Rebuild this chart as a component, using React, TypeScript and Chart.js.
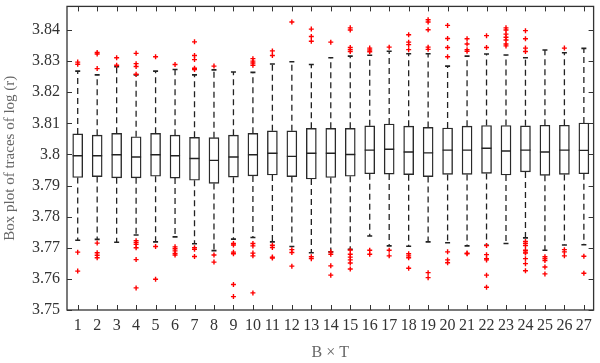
import React, { useEffect, useRef } from "react";
import { Chart, registerables } from "chart.js";

Chart.register(...registerables);

const categories = [1, 2, 3, 4, 5, 6, 7, 8, 9, 10, 11, 12, 13, 14, 15, 16, 17, 18, 19, 20, 21, 22, 23, 24, 25, 26, 27];

const q3 = [3.8066, 3.8062, 3.8068, 3.8057, 3.8068, 3.8062, 3.8055, 3.8054, 3.8062, 3.8068, 3.8076, 3.8076, 3.8084, 3.8084, 3.8084, 3.8092, 3.8098, 3.8091, 3.8087, 3.8085, 3.8091, 3.8093, 3.8093, 3.8092, 3.8094, 3.8094, 3.8101];
const medians = [3.7996, 3.7996, 3.7999, 3.7992, 3.7999, 3.7996, 3.7987, 3.7981, 3.7992, 3.7999, 3.8004, 3.7994, 3.8004, 3.8004, 3.8, 3.8014, 3.8017, 3.8008, 3.8005, 3.8014, 3.8014, 3.802, 3.8011, 3.8014, 3.8008, 3.8014, 3.8013];
const q1 = [3.7926, 3.7929, 3.7925, 3.7925, 3.793, 3.7924, 3.7917, 3.7907, 3.7927, 3.7931, 3.7934, 3.7929, 3.7921, 3.7926, 3.793, 3.7938, 3.7937, 3.7935, 3.7929, 3.7936, 3.7936, 3.7939, 3.7934, 3.7944, 3.7933, 3.7936, 3.7938];
const upperWhisker = [3.8268, 3.8256, 3.8282, 3.8256, 3.8268, 3.8273, 3.8256, 3.8272, 3.8265, 3.8264, 3.8291, 3.8298, 3.8289, 3.8311, 3.8316, 3.8319, 3.8332, 3.8324, 3.8324, 3.8284, 3.8316, 3.8323, 3.832, 3.8311, 3.8336, 3.8327, 3.8341];
const lowerWhisker = [3.7724, 3.7727, 3.7718, 3.7741, 3.7719, 3.7735, 3.7713, 3.7691, 3.7728, 3.7733, 3.7719, 3.7704, 3.7684, 3.7687, 3.7695, 3.7738, 3.7706, 3.7705, 3.7719, 3.7716, 3.7706, 3.7708, 3.7714, 3.7732, 3.7692, 3.7709, 3.771];

const outliers = [
  [3.8297, 3.829, 3.7686, 3.7625],
  [3.8328, 3.8323, 3.8276, 3.7715, 3.7684, 3.7676, 3.7668],
  [3.8311, 3.8287],
  [3.8325, 3.8292, 3.8283, 3.8258, 3.7723, 3.7717, 3.7711, 3.77, 3.7662, 3.7571],
  [3.8314, 3.7704, 3.7599],
  [3.8289, 3.7703, 3.7697, 3.769, 3.7682, 3.7677],
  [3.8362, 3.8318, 3.8305, 3.8277, 3.8273, 3.77, 3.7695, 3.7672],
  [3.8284, 3.7677, 3.7654],
  [3.7714, 3.7709, 3.7686, 3.7681, 3.7582, 3.7543],
  [3.8308, 3.83, 3.8294, 3.8287, 3.7714, 3.7706, 3.7683, 3.7674, 3.7555],
  [3.8333, 3.8318, 3.7708, 3.7701, 3.767, 3.7667],
  [3.8426, 3.7694, 3.7685, 3.7641],
  [3.8403, 3.8379, 3.8364, 3.7671, 3.7665],
  [3.8361, 3.7687, 3.7679, 3.7642, 3.7612],
  [3.8407, 3.84, 3.8344, 3.8337, 3.8331, 3.7693, 3.7679, 3.767, 3.7661, 3.7651, 3.7632],
  [3.8342, 3.8336, 3.833, 3.7692, 3.7679],
  [3.8345, 3.7692, 3.7674],
  [3.8385, 3.8361, 3.8353, 3.8337, 3.7681, 3.7674, 3.7668, 3.7634],
  [3.8433, 3.8426, 3.8401, 3.8345, 3.8338, 3.762, 3.7604],
  [3.8415, 3.8373, 3.8344, 3.8314, 3.7687, 3.7661, 3.7652],
  [3.8372, 3.8355, 3.8337, 3.8332, 3.7683, 3.7681],
  [3.8382, 3.8344, 3.7707, 3.7678, 3.7665, 3.7661, 3.7612, 3.7573],
  [3.8407, 3.84, 3.8387, 3.8377, 3.8368, 3.8355, 3.8349],
  [3.8398, 3.8372, 3.8342, 3.8331, 3.772, 3.7714, 3.7707, 3.7692, 3.7686, 3.7683, 3.7665, 3.7649, 3.7626],
  [3.7671, 3.7665, 3.7659, 3.7638, 3.7616],
  [3.8342, 3.7694, 3.7687, 3.7674],
  [3.7673, 3.7618],
];

const yTickValues = [3.75, 3.76, 3.77, 3.78, 3.79, 3.8, 3.81, 3.82, 3.83, 3.84];
const yTickLabels = ["3.75", "3.76", "3.77", "3.78", "3.79", "3.8", "3.81", "3.82", "3.83", "3.84"];
const xTitle = "B × T";
const yTitle = "Box plot of traces of log (r)";

const FONT = "'Liberation Serif', 'DejaVu Serif', serif";
const AXIS_COLOR = "#333333";

const framePlugin = {
  id: "frameTicks",
  afterDraw(chart: any) {
    const { ctx, chartArea: a, scales } = chart;
    const xs = scales.x;
    const ys = scales.y;
    const len = 5;
    ctx.save();
    ctx.strokeStyle = AXIS_COLOR;
    ctx.lineWidth = 1;
    ctx.beginPath();
    for (const c of categories) {
      const px = Math.round(xs.getPixelForValue(c)) + 0.5;
      ctx.moveTo(px, a.bottom);
      ctx.lineTo(px, a.bottom - len);
      ctx.moveTo(px, a.top);
      ctx.lineTo(px, a.top + len);
    }
    for (const v of yTickValues) {
      const py = Math.round(ys.getPixelForValue(v)) + 0.5;
      ctx.moveTo(a.left, py);
      ctx.lineTo(a.left + len, py);
      ctx.moveTo(a.right, py);
      ctx.lineTo(a.right - len, py);
    }
    ctx.stroke();
    ctx.lineWidth = 1.3;
    ctx.strokeRect(a.left, a.top, a.right - a.left, a.bottom - a.top);
    ctx.restore();
  },
};

export default function App() {
  const ref = useRef<HTMLCanvasElement | null>(null);

  useEffect(() => {
    if (!ref.current) return;

    const boxData = categories.map((c, i) => ({ x: c, y: [q1[i], q3[i]] }));
    const whiskerData: any[] = [];
    categories.forEach((c, i) => {
      whiskerData.push({ x: c, y: q3[i] }, { x: c, y: upperWhisker[i] }, { x: c, y: null });
      whiskerData.push({ x: c, y: q1[i] }, { x: c, y: lowerWhisker[i] }, { x: c, y: null });
    });
    const capData: any[] = [];
    categories.forEach((c, i) => {
      capData.push({ x: c, y: upperWhisker[i] }, { x: c, y: lowerWhisker[i] });
    });
    const medianData = categories.map((c, i) => ({ x: c, y: medians[i] }));
    const outlierData: any[] = [];
    categories.forEach((c, i) => {
      outliers[i].forEach((v) => outlierData.push({ x: c, y: v }));
    });

    const chart = new Chart(ref.current, {
      type: "bar",
      data: {
        datasets: [
          {
            type: "scatter",
            label: "outliers",
            data: outlierData,
            pointStyle: "cross",
            pointRadius: 2.5,
            pointBorderWidth: 1.4,
            borderColor: "#ff0000",
            backgroundColor: "#ff0000",
            order: 0,
          } as any,
          {
            type: "scatter",
            label: "medians",
            data: medianData,
            pointStyle: "line",
            pointRadius: 5,
            pointBorderWidth: 1.4,
            borderColor: "#222222",
            order: 1,
          } as any,
          {
            type: "scatter",
            label: "caps",
            data: capData,
            pointStyle: "line",
            pointRadius: 2.5,
            pointBorderWidth: 1.6,
            borderColor: "#222222",
            order: 2,
          } as any,
          {
            type: "line",
            label: "whiskers",
            data: whiskerData,
            borderColor: "#222222",
            borderWidth: 1.3,
            borderDash: [6, 4],
            pointRadius: 0,
            spanGaps: false,
            tension: 0,
            fill: false,
            order: 3,
          } as any,
          {
            type: "bar",
            label: "boxes",
            data: boxData,
            backgroundColor: "#ffffff",
            borderColor: "#2a2a2a",
            borderWidth: 1.4,
            borderSkipped: false,
            barThickness: 10,
            grouped: false,
            order: 4,
          } as any,
        ],
      },
      options: {
        animation: false,
        responsive: false,
        maintainAspectRatio: false,
        layout: { padding: { top: 1, right: 1, left: 0, bottom: 0 } },
        plugins: {
          legend: { display: false },
          tooltip: { enabled: false },
        },
        scales: {
          x: {
            type: "linear",
            min: 0.45,
            max: 27.5,
            offset: false,
            grid: { display: false, drawTicks: false },
            border: { display: false },
            afterBuildTicks: (s: any) => {
              s.ticks = categories.map((v) => ({ value: v }));
            },
            afterFit: (s: any) => {
              s.height = 53;
              s.paddingLeft = 0;
              s.paddingRight = 0;
            },
            ticks: {
              autoSkip: false,
              maxRotation: 0,
              minRotation: 0,
              padding: 6,
              color: "#333333",
              font: { family: FONT, size: 16 },
              callback: (v: any) => String(v),
            },
            title: {
              display: true,
              text: xTitle,
              color: "#666666",
              font: { family: FONT, size: 16 },
              padding: { top: 0, bottom: 1 },
            },
          },
          y: {
            type: "linear",
            min: 3.75,
            max: 3.8476,
            grid: { display: false, drawTicks: false },
            border: { display: false },
            afterBuildTicks: (s: any) => {
              s.ticks = yTickValues.map((v) => ({ value: v }));
            },
            afterFit: (s: any) => {
              s.width = 67;
              s.paddingTop = 0;
              s.paddingBottom = 0;
            },
            ticks: {
              padding: 7,
              color: "#333333",
              font: { family: FONT, size: 16 },
              callback: (_v: any, i: number) => yTickLabels[i],
            },
            title: {
              display: true,
              text: yTitle,
              color: "#666666",
              font: { family: FONT, size: 15 },
              padding: { top: 1, bottom: 0 },
            },
          },
        },
      } as any,
      plugins: [framePlugin],
    });

    return () => chart.destroy();
  }, []);

  return (
    <div style={{ position: "fixed", left: 0, top: 0, width: 600, height: 363, background: "#ffffff" }}>
      <canvas ref={ref} width={600} height={363} style={{ width: 600, height: 363 }} />
    </div>
  );
}
